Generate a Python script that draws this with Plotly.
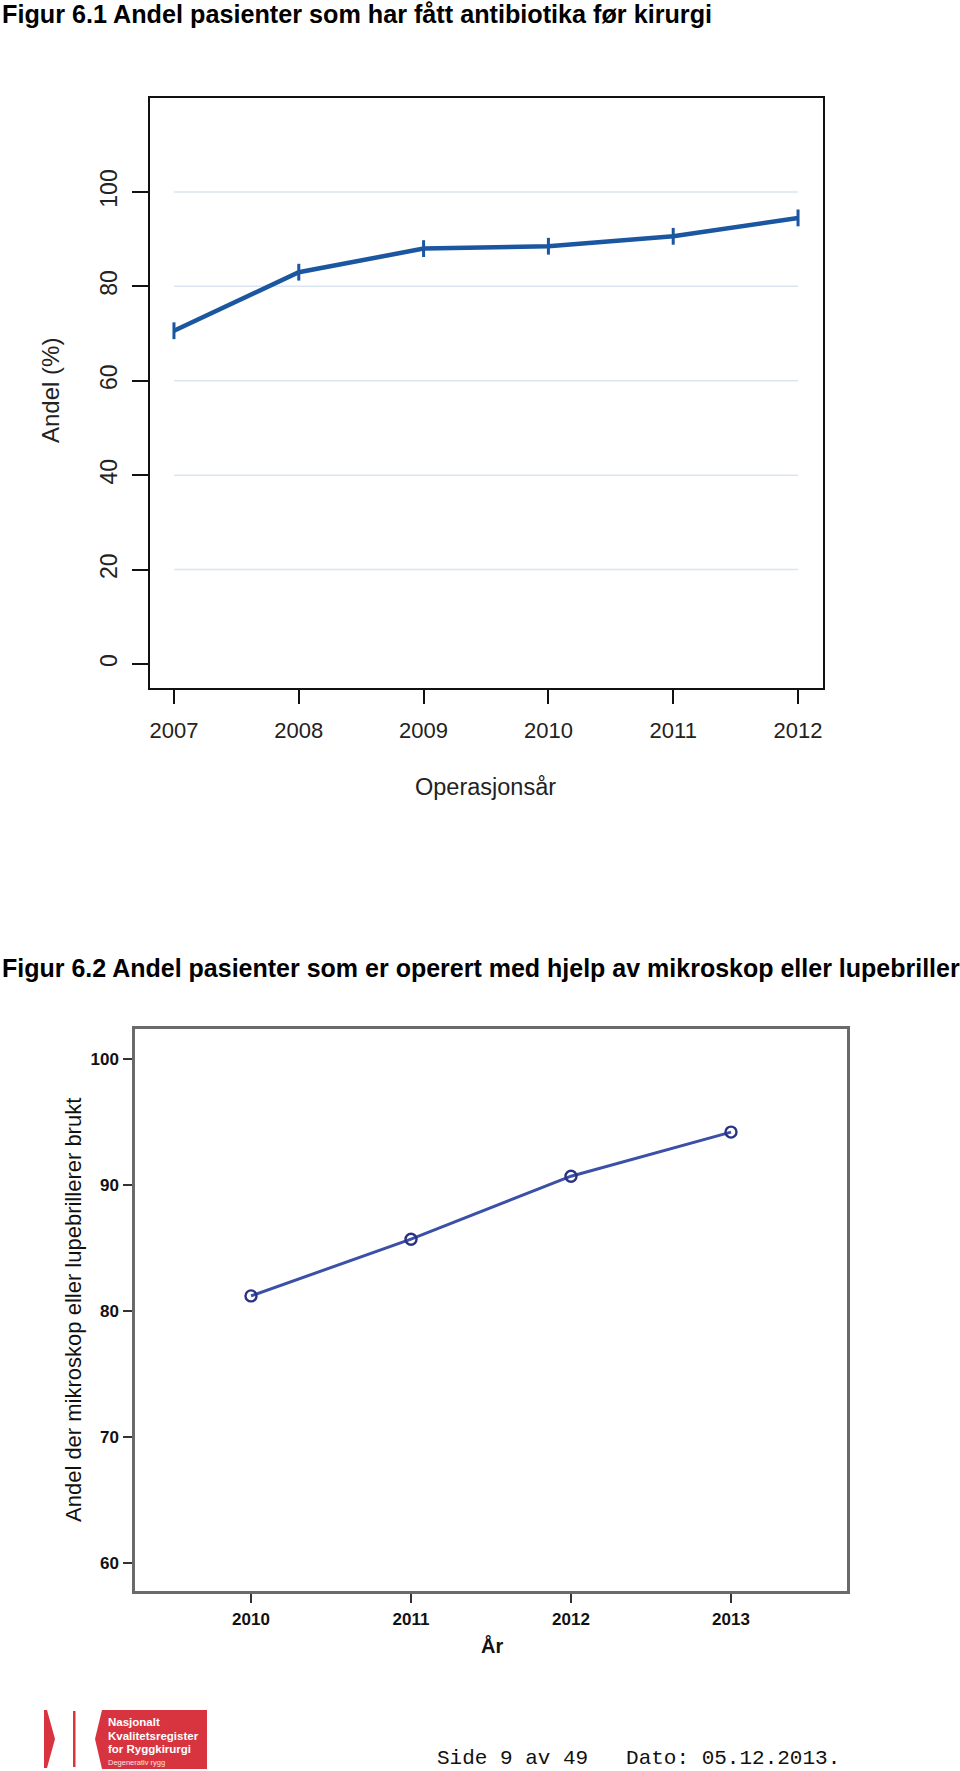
import plotly.graph_objects as go

W, H = 960, 1771

# ---- data ----
years1 = [2007, 2008, 2009, 2010, 2011, 2012]
andel_antibiotika = [70.6, 83.0, 88.0, 88.5, 90.6, 94.5]
yticks1 = [0, 20, 40, 60, 80, 100]

years2 = [2010, 2011, 2012, 2013]
andel_mikroskop = [81.2, 85.7, 90.7, 94.2]
yticks2 = [60, 70, 80, 90, 100]

title1 = "Figur 6.1 Andel pasienter som har fått antibiotika før kirurgi"
title2 = "Figur 6.2 Andel pasienter som er operert med hjelp av mikroskop eller lupebriller"
xtitle1 = "Operasjonsår"
ytitle1 = "Andel (%)"
xtitle2 = "År"
ytitle2 = "Andel der mikroskop eller lupebrillerer brukt"
logo_lines = ["Nasjonalt", "Kvalitetsregister", "for Ryggkirurgi"]
logo_sub = "Degenerativ rygg"
footer = "Side 9 av 49   Dato: 05.12.2013."


def px(x):
    return x / W


def py(y):
    return 1 - y / H


FONT = "Liberation Sans, Arial, sans-serif"

fig = go.Figure()

fig.add_trace(go.Scatter(
    x=years1, y=andel_antibiotika, xaxis="x", yaxis="y",
    mode="lines+markers",
    line=dict(color="#1b56a0", width=4.5),
    marker=dict(symbol="line-ns-open", size=12, line=dict(color="#1b56a0", width=3)),
    hoverinfo="x+y",
))

fig.add_trace(go.Scatter(
    x=years2, y=andel_mikroskop, xaxis="x2", yaxis="y2",
    mode="lines+markers",
    line=dict(color="#3b50a6", width=3),
    marker=dict(symbol="circle-open", size=11, color="#2a3283", line=dict(color="#2a3283", width=2.4)),
    hoverinfo="x+y",
))

# gridlines for chart 1 (only between first and last year, as in the reference)
shapes = []
for t in yticks1[1:]:
    shapes.append(dict(type="line", xref="x", yref="y", x0=years1[0], x1=years1[-1], y0=t, y1=t,
                       line=dict(color="#d9e5f1", width=1.5), layer="below"))

# logo shapes
red = "#d8343f"


def path(points):
    return "M " + " L ".join(f"{px(x):.5f},{py(y):.5f}" for x, y in points) + " Z"


shapes.append(dict(type="path", xref="paper", yref="paper",
                   path=path([(44, 1710), (47, 1710), (55, 1739), (47, 1768), (44, 1768)]),
                   fillcolor=red, line=dict(width=0)))
shapes.append(dict(type="path", xref="paper", yref="paper",
                   path=path([(73, 1711), (75.5, 1711), (75.5, 1767), (73, 1767)]),
                   fillcolor=red, line=dict(width=0)))
shapes.append(dict(type="path", xref="paper", yref="paper",
                   path=path([(102, 1710), (207, 1710), (207, 1769), (102, 1769), (95, 1739)]),
                   fillcolor=red, line=dict(width=0)))

annotations = []


def ann(text, x, y, size, bold=False, xanchor="center", color="#000", angle=0, family=FONT):
    annotations.append(dict(
        text=f"<b>{text}</b>" if bold else text,
        x=px(x), y=py(y), xref="paper", yref="paper",
        xanchor=xanchor, yanchor="middle", showarrow=False, textangle=angle,
        font=dict(size=size, color=color, family=family),
    ))


ann(title1, 0, 14, 25.2, bold=True, xanchor="left")
ann(xtitle1, 485, 787, 23.5, color="#222")
ann(ytitle1, 51, 391, 24, color="#222", angle=-90)
ann(title2, 0, 968, 25, bold=True, xanchor="left")
ann(xtitle2, 492, 1645, 20, bold=True, color="#111")
ann(ytitle2, 73, 1310, 22, color="#111", angle=-90)
for i, line in enumerate(logo_lines):
    ann(line, 106, 1722 + i * 13.5, 11.5, bold=True, xanchor="left", color="#fff")
ann(logo_sub, 106, 1762, 7.5, xanchor="left", color="#fbe3e3")
ann(footer.replace(" ", "\u00a0"), 435, 1758, 21, xanchor="left", color="#111",
    family="Liberation Mono, Courier New, monospace")

fig.update_layout(
    width=W, height=H,
    margin=dict(l=0, r=0, t=0, b=0),
    paper_bgcolor="white", plot_bgcolor="white",
    showlegend=False,
    font=dict(family=FONT, color="#111"),
    shapes=shapes,
    annotations=annotations,
    xaxis=dict(
        domain=[px(150), px(823)], anchor="y",
        range=[2006.808, 2012.2],
        tickmode="array", tickvals=years1, ticktext=[str(v) for v in years1],
        ticks="outside", ticklen=14, tickwidth=1.5, tickcolor="#111",
        showline=True, linewidth=2, linecolor="#111", mirror=True,
        showgrid=False, zeroline=False,
        tickfont=dict(size=22, color="#222"), ticklabelstandoff=8,
    ),
    yaxis=dict(
        domain=[py(688), py(98)], anchor="x",
        range=[-5.08, 119.9],
        tickmode="array", tickvals=yticks1, ticktext=[str(v) for v in yticks1],
        ticks="outside", ticklen=16, tickwidth=1.5, tickcolor="#111",
        showline=True, linewidth=2, linecolor="#111", mirror=True,
        showgrid=False, zeroline=False, tickangle=-90,
        tickfont=dict(size=23, color="#222"), ticklabelstandoff=6,
    ),
    xaxis2=dict(
        domain=[px(135), px(847)], anchor="y2",
        range=[2009.275, 2013.725],
        tickmode="array", tickvals=years2, ticktext=[str(v) for v in years2],
        ticks="outside", ticklen=9, tickwidth=1.5, tickcolor="#333",
        showline=True, linewidth=2.5, linecolor="#6a6a6a", mirror=True,
        showgrid=False, zeroline=False,
        tickfont=dict(size=17, color="#111", family=FONT, weight="bold"),
        ticklabelstandoff=2,
    ),
    yaxis2=dict(
        domain=[py(1591), py(1029)], anchor="x2",
        range=[57.78, 102.38],
        tickmode="array", tickvals=yticks2, ticktext=[str(v) for v in yticks2],
        ticks="outside", ticklen=9, tickwidth=1.5, tickcolor="#333",
        showline=True, linewidth=2.5, linecolor="#6a6a6a", mirror=True,
        showgrid=False, zeroline=False,
        tickfont=dict(size=17, color="#111", family=FONT, weight="bold"),
        ticklabelstandoff=1,
    ),
)

fig.write_html(
    "out.html",
    config={"displayModeBar": False},
    post_script="document.body.style.margin='0';document.body.style.padding='0';",
)
